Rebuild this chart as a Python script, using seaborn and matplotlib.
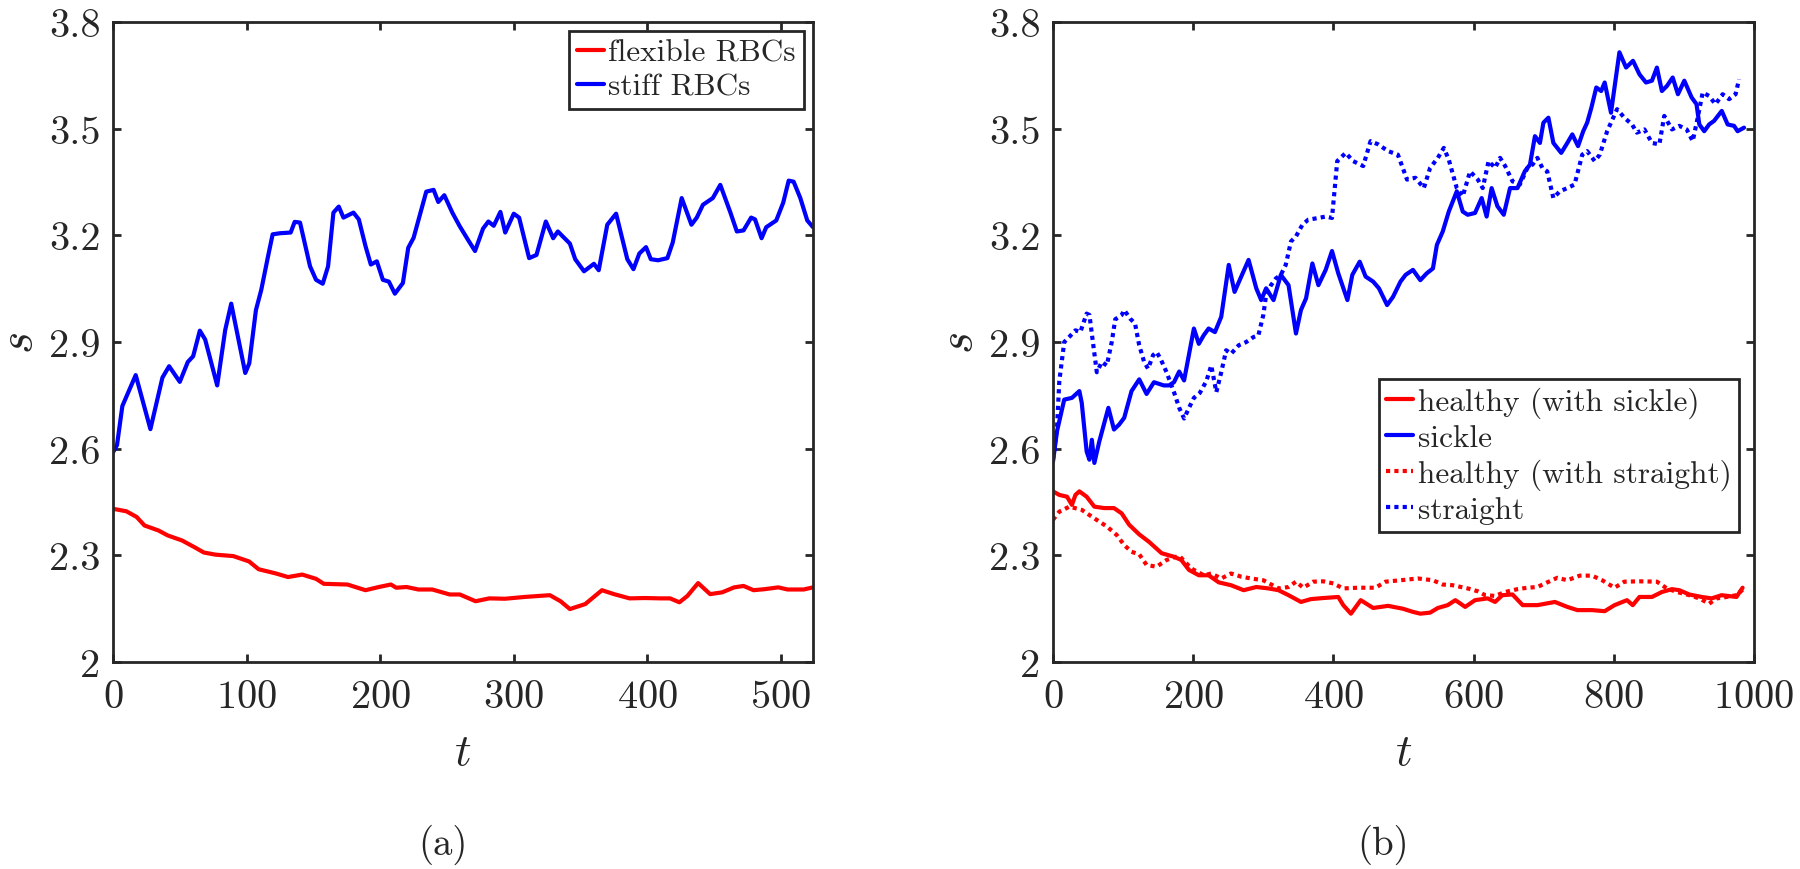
import numpy as np
import pandas as pd
import matplotlib
matplotlib.use("Agg")
import matplotlib.pyplot as plt
import seaborn as sns

# ---- panel (a): flexible vs stiff RBCs ----
t_stiff = [0, 3, 7, 17, 28, 37, 42, 50, 56, 60,
           65, 69, 78, 84, 88.5, 99, 102, 107, 111, 116,
           119.5, 125, 133, 136, 140, 147.5, 152, 157, 161, 165,
           169, 172.5, 180, 184, 189, 193, 197.5, 202, 206.5, 211,
           217, 221, 225, 234.5, 240, 243.5, 248, 254, 259.5, 265.5,
           271, 277, 281, 285, 290, 293.6, 300, 304, 311.5, 317,
           324, 329.5, 333, 342, 346, 352.6, 360, 363.6, 370, 376.6,
           385, 389.6, 394, 399, 402.6, 408, 415, 419, 425.7, 433,
           437, 441.6, 449, 454.6, 462, 467, 472, 477.7, 480.6, 485.5,
           489, 496.5, 501.7, 505.8, 509.5, 514.5, 519.7, 524]
s_stiff = [2.59, 2.61, 2.72, 2.807, 2.655, 2.80, 2.832, 2.788, 2.844, 2.86,
           2.932, 2.907, 2.778, 2.934, 3.008, 2.813, 2.84, 2.99, 3.047, 3.14,
           3.203, 3.206, 3.208, 3.238, 3.236, 3.113, 3.075, 3.064, 3.113, 3.264,
           3.281, 3.25, 3.264, 3.245, 3.17, 3.118, 3.127, 3.075, 3.07, 3.036,
           3.066, 3.165, 3.193, 3.323, 3.328, 3.294, 3.313, 3.264, 3.226, 3.189,
           3.156, 3.219, 3.239, 3.227, 3.266, 3.208, 3.261, 3.25, 3.136, 3.145,
           3.239, 3.192, 3.211, 3.177, 3.133, 3.099, 3.12, 3.102, 3.23, 3.261,
           3.133, 3.105, 3.149, 3.167, 3.133, 3.13, 3.136, 3.18, 3.305, 3.23,
           3.25, 3.286, 3.305, 3.342, 3.266, 3.211, 3.214, 3.25, 3.245, 3.192,
           3.223, 3.242, 3.292, 3.354, 3.351, 3.305, 3.242, 3.223]

t_flex = [0, 10, 17.7, 23.6, 34, 41, 51.6, 60.5, 68, 76.7,
          90, 101.8, 109, 122, 131, 141.6, 152, 157.8, 175.5, 189,
          199, 208, 212, 219.8, 228.6, 239, 252, 259.6, 271.4, 281.7,
          293.5, 308, 327, 335, 342, 353.5, 366, 375, 386.7, 398,
          410, 417, 424, 430, 438, 447, 456, 465, 472, 479.5,
          488, 498, 505, 517, 524]
s_flex = [2.431, 2.424, 2.408, 2.384, 2.37, 2.356, 2.342, 2.324, 2.308, 2.302,
          2.298, 2.283, 2.261, 2.249, 2.239, 2.246, 2.234, 2.22, 2.218, 2.202,
          2.211, 2.218, 2.209, 2.211, 2.204, 2.204, 2.19, 2.19, 2.171, 2.179,
          2.178, 2.183, 2.188, 2.171, 2.149, 2.163, 2.202, 2.191, 2.179, 2.18,
          2.179, 2.179, 2.168, 2.186, 2.222, 2.191, 2.196, 2.21, 2.214, 2.202,
          2.205, 2.21, 2.204, 2.204, 2.21]

# ---- panel (b): sickle / straight ----
t_sickle = [0, 5.7, 16, 27, 37.6, 41, 48, 52, 55.4, 59,
            66, 79, 87, 94.4, 101.6, 112, 123, 133.5, 144, 158,
            165.5, 172.6, 180, 187, 196, 201, 208, 215, 222, 231,
            240, 250.7, 259, 268.5, 279, 290, 297, 304, 314.6, 325,
            336, 346.6, 353.7, 361, 370, 378.6, 389, 398, 407, 420,
            427, 437.5, 446, 456.7, 465, 476.6, 485, 495.7, 503, 513.5,
            524, 533, 542, 547.6, 556, 564.6, 576, 584.5, 591.6, 602,
            611.5, 618.6, 625.7, 634, 643, 652, 662.6, 673, 680.4, 687.5,
            694.6, 699.6, 706.7, 713.8, 725, 733.7, 740.8, 749, 756.4, 762,
            768, 775, 782, 787, 796, 808, 817.5, 827.4, 836.6, 845.9,
            854.4, 861.5, 868.6, 875.7, 884, 891.5, 900.6, 911, 918, 922,
            929, 936, 943, 954, 962.4, 971.6, 976.6, 985.8]
s_sickle = [2.564, 2.649, 2.738, 2.743, 2.762, 2.729, 2.592, 2.569, 2.625, 2.56,
            2.62, 2.715, 2.654, 2.668, 2.687, 2.762, 2.795, 2.754, 2.787, 2.778,
            2.778, 2.787, 2.817, 2.792, 2.886, 2.938, 2.895, 2.919, 2.938, 2.928,
            2.971, 3.117, 3.041, 3.084, 3.131, 3.051, 3.018, 3.051, 3.018, 3.089,
            3.06, 2.924, 2.99, 3.023, 3.121, 3.06, 3.103, 3.156, 3.093, 3.018,
            3.089, 3.126, 3.084, 3.07, 3.051, 3.004, 3.027, 3.07, 3.089, 3.103,
            3.074, 3.093, 3.107, 3.173, 3.211, 3.267, 3.324, 3.267, 3.258, 3.263,
            3.305, 3.253, 3.333, 3.282, 3.258, 3.333, 3.333, 3.38, 3.399, 3.479,
            3.46, 3.517, 3.531, 3.46, 3.432, 3.46, 3.484, 3.451, 3.493, 3.517,
            3.559, 3.616, 3.606, 3.63, 3.545, 3.715, 3.672, 3.691, 3.653, 3.63,
            3.635, 3.672, 3.606, 3.62, 3.644, 3.597, 3.635, 3.588, 3.569, 3.512,
            3.493, 3.512, 3.522, 3.55, 3.512, 3.508, 3.493, 3.503]

t_straight = [0, 5.7, 9, 16, 23, 32, 39, 48, 52, 57.5,
              62.5, 69.6, 76.7, 83.8, 88.8, 98, 101.6, 110, 117, 123,
              130, 135.6, 142.7, 147.7, 153.4, 162, 172.6, 180, 187, 194,
              201, 209.5, 218.7, 225.8, 233, 240, 247, 254, 265, 275.6,
              286, 293, 300, 304, 311, 318, 325, 332, 339.5, 346.6,
              355.8, 364, 378.6, 389, 398, 405.5, 417.6, 428, 442.5, 453,
              463.8, 478, 492, 505, 517, 529, 538, 549, 557.5, 564.6,
              576, 584.5, 595, 606, 613, 621.4, 630.7, 637.8, 645, 655.5,
              666, 676.8, 684, 691, 698, 705, 713.8, 723, 733.7, 744,
              755, 762, 772.7, 780, 790.5, 804.7, 815, 826, 833, 843.7,
              854.4, 865, 872, 883, 893.5, 904, 912.6, 919.7, 926.8, 936,
              945, 955.3, 964.5, 973.7, 978.7]
s_straight = [2.569, 2.658, 2.79, 2.9, 2.914, 2.933, 2.928, 2.98, 2.976, 2.891,
              2.815, 2.844, 2.834, 2.9, 2.964, 2.976, 2.99, 2.966, 2.952, 2.891,
              2.844, 2.825, 2.863, 2.872, 2.853, 2.815, 2.759, 2.715, 2.685, 2.715,
              2.743, 2.757, 2.79, 2.834, 2.759, 2.815, 2.877, 2.867, 2.891, 2.9,
              2.914, 2.919, 2.976, 3.032, 3.06, 3.079, 3.089, 3.117, 3.183, 3.197,
              3.23, 3.244, 3.249, 3.253, 3.249, 3.409, 3.432, 3.409, 3.395, 3.465,
              3.456, 3.437, 3.427, 3.357, 3.362, 3.333, 3.39, 3.418, 3.446, 3.413,
              3.333, 3.31, 3.38, 3.357, 3.333, 3.409, 3.39, 3.418, 3.395, 3.352,
              3.343, 3.39, 3.399, 3.418, 3.39, 3.38, 3.305, 3.324, 3.333, 3.343,
              3.427, 3.437, 3.409, 3.427, 3.493, 3.555, 3.531, 3.512, 3.489, 3.498,
              3.46, 3.456, 3.536, 3.498, 3.508, 3.498, 3.465, 3.531, 3.602, 3.592,
              3.569, 3.597, 3.583, 3.597, 3.639]

t_h_sickle = [0, 9, 20, 27, 32, 37.6, 48, 59, 73, 87,
              98, 108.7, 123, 137, 155, 172.6, 183, 194, 208, 222,
              236.5, 254, 272, 290, 307.5, 321.7, 336, 353.7, 368, 385.7,
              407, 414, 425, 439, 456.7, 478, 499, 513.5, 524, 538,
              549, 563, 574, 588, 602, 620, 630.7, 641, 655.5, 670,
              691, 716, 733.7, 748, 769, 787, 801, 818.8, 827, 836.6,
              854.4, 868.6, 883, 893.5, 907.7, 925.4, 939.6, 953.8, 975, 983.7]
s_h_sickle = [2.48, 2.47, 2.465, 2.442, 2.47, 2.48, 2.465, 2.437, 2.433, 2.433,
              2.418, 2.386, 2.359, 2.338, 2.306, 2.296, 2.287, 2.259, 2.244, 2.244,
              2.224, 2.216, 2.202, 2.211, 2.207, 2.202, 2.188, 2.169, 2.177, 2.18,
              2.183, 2.16, 2.136, 2.174, 2.152, 2.158, 2.15, 2.141, 2.136, 2.139,
              2.152, 2.16, 2.174, 2.155, 2.174, 2.179, 2.169, 2.188, 2.19, 2.16,
              2.16, 2.169, 2.155, 2.146, 2.146, 2.143, 2.16, 2.174, 2.16, 2.183,
              2.183, 2.197, 2.205, 2.202, 2.19, 2.183, 2.179, 2.188, 2.183, 2.209]

t_h_straight = [0, 9, 23.4, 41, 59, 77, 91, 101.6, 112, 123,
                133.5, 147.7, 162, 180, 197.4, 215, 225.8, 240, 254, 268.5,
                282.7, 300, 321.7, 336, 346.6, 357, 371.4, 385.7, 400, 414,
                435, 460, 474.4, 495.7, 520.6, 541.9, 556, 570, 591.6, 605.8,
                616.5, 630.7, 645, 662.6, 676.8, 691, 705, 719.5, 733.7, 751.4,
                769, 783.4, 801, 815, 836.6, 861.5, 875.7, 890, 907.7, 922,
                936, 946.7, 961, 975, 985.8]
s_h_straight = [2.4, 2.423, 2.437, 2.428, 2.404, 2.381, 2.357, 2.329, 2.31, 2.303,
                2.273, 2.268, 2.287, 2.299, 2.263, 2.244, 2.249, 2.235, 2.249, 2.24,
                2.235, 2.23, 2.207, 2.211, 2.226, 2.209, 2.226, 2.227, 2.221, 2.207,
                2.209, 2.209, 2.226, 2.23, 2.235, 2.23, 2.218, 2.216, 2.207, 2.199,
                2.188, 2.186, 2.197, 2.205, 2.209, 2.211, 2.224, 2.237, 2.23, 2.243,
                2.243, 2.23, 2.209, 2.226, 2.227, 2.226, 2.207, 2.197, 2.188, 2.179,
                2.164, 2.179, 2.183, 2.188, 2.207]

y_ticks = [2, 2.3, 2.6, 2.9, 3.2, 3.5, 3.8]
y_ticklabels = ["2", "2.3", "2.6", "2.9", "3.2", "3.5", "3.8"]

# ---- style ----
sns.set_style("ticks")
plt.rcParams["font.family"] = ["cmr10", "DejaVu Serif"]
plt.rcParams["mathtext.fontset"] = "cm"
plt.rcParams["axes.unicode_minus"] = False
plt.rcParams["axes.formatter.use_mathtext"] = True

RED = "#ff0000"
BLUE = "#0000ff"
GRAY = "#262626"
LW = 3.0

fig = plt.figure(figsize=(18, 8.7), dpi=100)
ax_a = fig.add_axes([113 / 1800, 0.2379, 700 / 1800, 0.7356])
ax_b = fig.add_axes([1053 / 1800, 0.2379, 701 / 1800, 0.7356])

sns.lineplot(x=t_flex, y=s_flex, ax=ax_a, color=RED, lw=LW, label="flexible RBCs")
sns.lineplot(x=t_stiff, y=s_stiff, ax=ax_a, color=BLUE, lw=LW, label="stiff RBCs")

sns.lineplot(x=t_h_sickle, y=s_h_sickle, ax=ax_b, color=RED, lw=LW,
             label="healthy (with sickle)")
sns.lineplot(x=t_sickle, y=s_sickle, ax=ax_b, color=BLUE, lw=LW, label="sickle")
sns.lineplot(x=t_h_straight, y=s_h_straight, ax=ax_b, color=RED, lw=LW,
             linestyle=(0, (1, 1)), label="healthy (with straight)")
sns.lineplot(x=t_straight, y=s_straight, ax=ax_b, color=BLUE, lw=LW,
             linestyle=(0, (1, 1)), label="straight")

ax_a.set_xlim(0, 524)
ax_a.set_xticks([0, 100, 200, 300, 400, 500])
ax_b.set_xlim(0, 1000)
ax_b.set_xticks([0, 200, 400, 600, 800, 1000])

for ax in (ax_a, ax_b):
    ax.set_ylim(2, 3.8)
    ax.set_yticks(y_ticks)
    ax.set_yticklabels(y_ticklabels)
    ax.tick_params(direction="in", length=6, width=2, colors=GRAY,
                   labelsize=29, top=True, right=True, pad=9)
    ax.tick_params(axis="x", pad=12)
    for sp in ax.spines.values():
        sp.set_visible(True)
        sp.set_color(GRAY)
        sp.set_linewidth(2)
    ax.set_xlabel("$t$", fontsize=33, color=GRAY, labelpad=12)
    ax.set_ylabel("$s$", fontsize=34, color=GRAY, labelpad=6)

leg_kw = dict(fontsize=22.5, frameon=True, fancybox=False, edgecolor=GRAY,
              framealpha=1, handlelength=0.85, handletextpad=0.15,
              labelspacing=0.2, borderpad=0.25, borderaxespad=0)
leg_a = ax_a.legend(loc="upper right", bbox_to_anchor=(0.987, 0.986), **leg_kw)
leg_b = ax_b.legend(loc="lower right", bbox_to_anchor=(0.979, 0.203), **leg_kw)
for leg in (leg_a, leg_b):
    leg.get_frame().set_linewidth(2)

fig.text(443 / 1800, 1 - 845 / 870, "(a)", fontsize=28, ha="center", va="center")
fig.text(1383 / 1800, 1 - 845 / 870, "(b)", fontsize=28, ha="center", va="center")

fig.savefig("out.png", dpi=100)
